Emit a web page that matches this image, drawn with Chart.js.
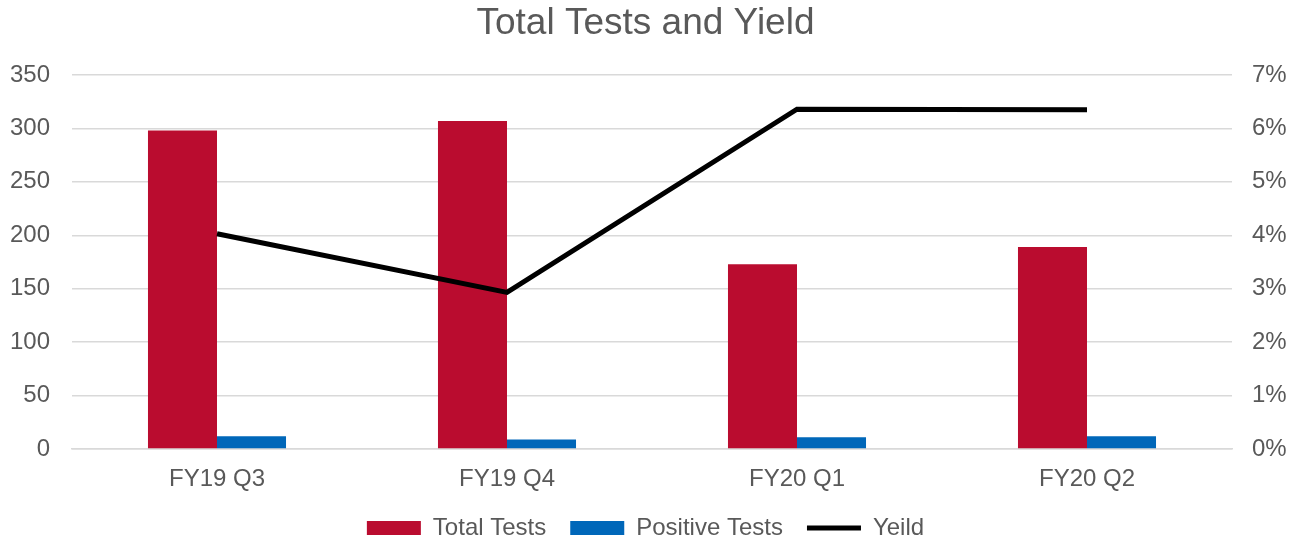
<!DOCTYPE html>
<html>
<head>
<meta charset="utf-8">
<title>Total Tests and Yield</title>
<script src="https://cdn.jsdelivr.net/npm/chart.js@4.4.0/dist/chart.umd.min.js"></script>
<style>
  html, body { margin: 0; padding: 0; background: #fff; }
  #wrap { width: 1291px; height: 539px; position: relative; }
</style>
</head>
<body>
<div id="wrap"><canvas id="chart"></canvas></div>
<script>
// data
const quarters = ['FY19 Q3', 'FY19 Q4', 'FY20 Q1', 'FY20 Q2'];
const totalTests = [298, 307, 173, 189];
const positiveTests = [12, 9, 11, 12];
const yieldPct = [0.0403, 0.0293, 0.0636, 0.0635];

const COLORS = {
    red: '#BA0C2F',
    blue: '#0067B9',
    line: '#000000',
    text: '#595959',
    grid: '#D9D9D9',
};

Chart.defaults.font.family = "'Liberation Sans', Arial, sans-serif";
Chart.defaults.color = COLORS.text;

new Chart(document.getElementById('chart'), {
    type: 'bar',
    data: {
        labels: quarters,
        datasets: [
            {
                type: 'line',
                label: 'Yeild',
                data: yieldPct,
                yAxisID: 'y1',
                borderColor: COLORS.line,
                backgroundColor: COLORS.line,
                borderWidth: 5,
                pointRadius: 0,
                pointStyle: 'line',
                tension: 0,
                order: 0,
            },
            {
                label: 'Total Tests',
                data: totalTests,
                backgroundColor: COLORS.red,
                pointStyle: 'rect',
                categoryPercentage: 0.476,
                barPercentage: 1,
                order: 1,
            },
            {
                label: 'Positive Tests',
                data: positiveTests,
                backgroundColor: COLORS.blue,
                pointStyle: 'rect',
                categoryPercentage: 0.476,
                barPercentage: 1,
                order: 2,
            },
        ]
    },
    options: {
        responsive: true,
        maintainAspectRatio: false,
        animation: false,
        layout: { padding: { top: 0, bottom: -11, left: 0, right: 0 } },
        scales: {
            x: {
                grid: { display: false },
                border: { display: true, color: COLORS.grid, width: 1.5 },
                ticks: { font: { size: 24 }, color: COLORS.text, padding: 8 },
                afterFit: (s) => { s.height = 43; },
            },
            y: {
                position: 'left',
                min: 0,
                max: 350,
                ticks: { stepSize: 50, font: { size: 24 }, color: COLORS.text, padding: 22 },
                grid: { color: COLORS.grid, lineWidth: 1.5, drawTicks: false },
                border: { display: false },
                afterFit: (s) => { s.width = 72; },
            },
            y1: {
                position: 'right',
                min: 0,
                max: 0.07,
                ticks: {
                    stepSize: 0.01,
                    font: { size: 24 },
                    color: COLORS.text,
                    padding: 20,
                    callback: (v) => Math.round(v * 100) + '%',
                },
                grid: { display: false, drawTicks: false },
                border: { display: false },
                afterFit: (s) => { s.width = 59; },
            },
        },
        plugins: {
            title: {
                display: true,
                text: 'Total Tests and Yield',
                font: { size: 37, weight: 'normal' },
                color: COLORS.text,
                padding: { top: 2, bottom: 28.6 },
            },
            legend: {
                position: 'bottom',
                labels: {
                    usePointStyle: true,
                    pointStyleWidth: 54,
                    boxHeight: 14,
                    padding: 24,
                    font: { size: 24 },
                    color: COLORS.text,
                    sort: (a, b) => {
                        const order = ['Total Tests', 'Positive Tests', 'Yeild'];
                        return order.indexOf(a.text) - order.indexOf(b.text);
                    },
                },
            },
            tooltip: { enabled: false },
        },
    }
});
</script>
</body>
</html>
